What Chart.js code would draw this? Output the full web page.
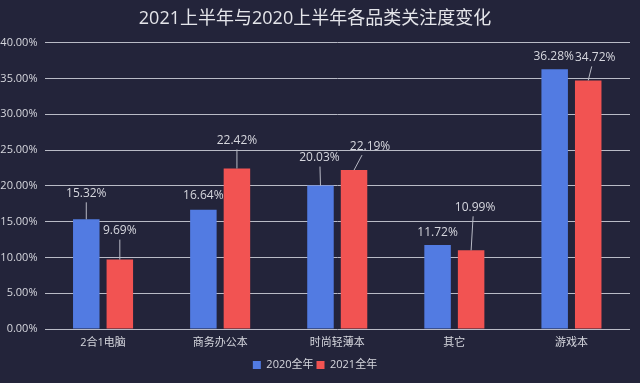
<!DOCTYPE html>
<html>
<head>
<meta charset="utf-8">
<script src="https://cdn.jsdelivr.net/npm/chart.js@4"></script>
<style>
  html, body { margin: 0; padding: 0; background: #23243a; }
  #wrap { width: 640px; height: 383px; }
</style>
</head>
<body>
<div id="wrap"><canvas id="chart"></canvas></div>
<script>
const categories = ['2合1电脑', '商务办公本', '时尚轻薄本', '其它', '游戏本'];
const values2020 = [15.32, 16.64, 20.03, 11.72, 36.28];
const values2021 = [9.69, 22.42, 22.19, 10.99, 34.72];
const seriesNames = ['2020全年', '2021全年'];

// label nudges [dx, dy] from each bar top, like the source's label layout
const labelShift2020 = [[0, -26], [0, -14], [-1, -28], [0, -13], [-1, -13]];
const labelShift2021 = [[0, -29], [0, -28], [16, -24], [4, -43], [7, -23]];

const FONT = "'Open Sans', 'Noto Sans CJK SC', sans-serif";
const textColor = '#d6d7de';

const barLabels = {
    id: 'barLabels',
    afterDatasetsDraw(chart) {
        const ctx = chart.ctx;
        const shifts = [labelShift2020, labelShift2021];
        ctx.save();
        ctx.font = '12px ' + FONT;
        ctx.textAlign = 'center';
        ctx.textBaseline = 'middle';
        chart.data.datasets.forEach((ds, i) => {
            chart.getDatasetMeta(i).data.forEach((bar, j) => {
                const [dx, dy] = shifts[i][j];
                const lx = bar.x + dx, ly = bar.y + dy;
                if (bar.y - (ly + 9) > 6) {
                    ctx.strokeStyle = '#b9bbc6';
                    ctx.lineWidth = 1;
                    ctx.beginPath();
                    ctx.moveTo(bar.x, bar.y);
                    ctx.lineTo(bar.x + dx * 0.5, ly + 9);
                    ctx.stroke();
                }
                ctx.fillStyle = textColor;
                ctx.fillText(ds.data[j].toFixed(2) + '%', lx, ly);
            });
        });
        ctx.restore();
    }
};

new Chart(document.getElementById('chart'), {
    type: 'bar',
    data: {
        labels: categories,
        datasets: [
            { label: seriesNames[0], data: values2020, backgroundColor: '#527be2' },
            { label: seriesNames[1], data: values2021, backgroundColor: '#f25352' }
        ]
    },
    options: {
        responsive: true,
        maintainAspectRatio: false,
        animation: false,
        datasets: { bar: { categoryPercentage: 0.573, barPercentage: 0.79 } },
        layout: { padding: { left: 0, right: 10, bottom: 2.5 } },
        plugins: {
            title: {
                display: true,
                text: '2021上半年与2020上半年各品类关注度变化',
                color: '#e4e5ea',
                font: { family: FONT, size: 18, weight: 'normal' },
                padding: { top: 8, bottom: 13 }
            },
            legend: {
                position: 'bottom',
                labels: {
                    color: textColor,
                    font: { family: FONT, size: 11 },
                    boxWidth: 8,
                    boxHeight: 8,
                    padding: 3
                }
            },
            tooltip: { enabled: false }
        },
        scales: {
            x: {
                afterFit(scale) { scale.height = 27.5; },
                grid: { display: false, drawTicks: false },
                border: { display: false },
                ticks: { color: textColor, font: { family: FONT, size: 11 }, padding: 7 }
            },
            y: {
                min: 0,
                max: 40,
                afterFit(scale) { scale.width = 44.5; },
                grid: { color: '#b9bbc6', drawTicks: false },
                border: { display: false },
                ticks: {
                    stepSize: 5,
                    padding: 7,
                    color: textColor,
                    font: { family: FONT, size: 11 },
                    callback: v => v.toFixed(2) + '%'
                }
            }
        }
    },
    plugins: [barLabels]
});
</script>
</body>
</html>
